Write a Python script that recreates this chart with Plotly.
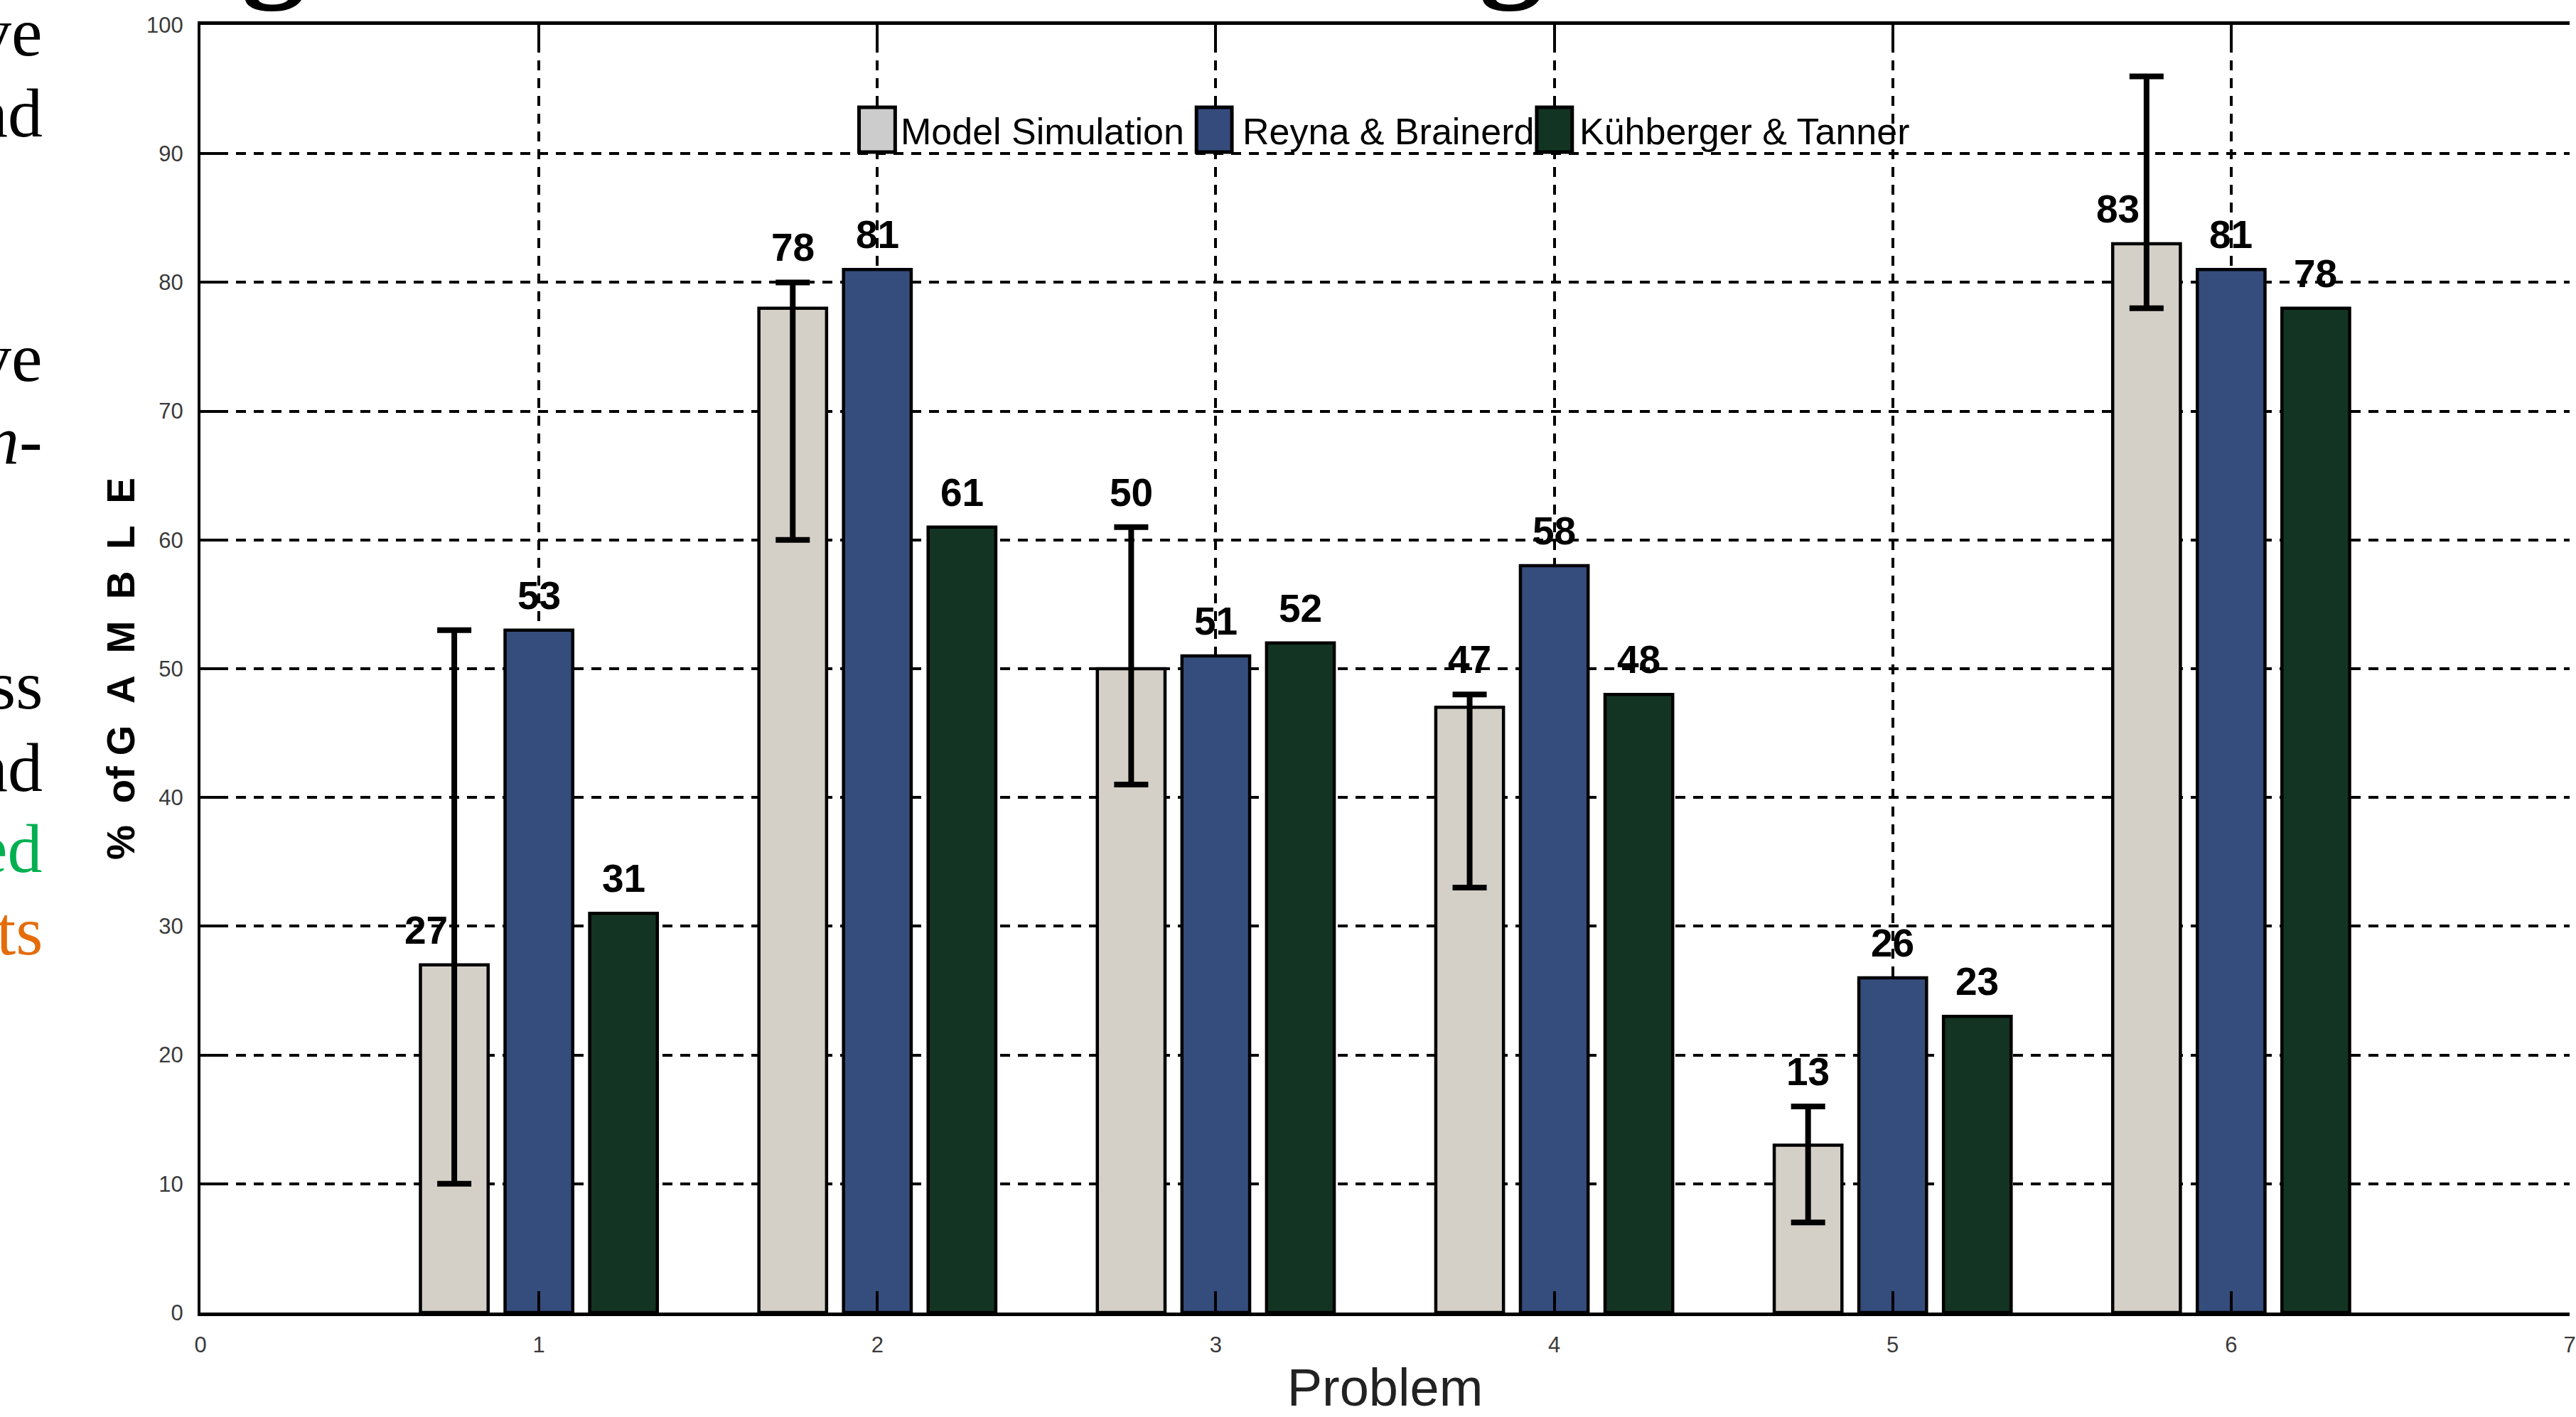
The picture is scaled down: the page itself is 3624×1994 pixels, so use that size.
import plotly.graph_objects as go

# ---- data -------------------------------------------------------------
problems = [1, 2, 3, 4, 5, 6]
x_tick_values = [0, 1, 2, 3, 4, 5, 6, 7]
y_tick_values = [0, 10, 20, 30, 40, 50, 60, 70, 80, 90, 100]

series_names = ["Model Simulation", "Reyna & Brainerd", "Kühberger & Tanner"]

model_simulation = [27, 78, 50, 47, 13, 83]
model_low = [10, 60, 41, 33, 7, 78]
model_high = [53, 80, 61, 48, 16, 96]
reyna_brainerd = [53, 81, 51, 58, 26, 81]
kuhberger_tanner = [31, 61, 52, 48, 23, 78]

# slide text that runs in from the left of the chart
side_fragments = ["ve", "nd", "ve", "n-", "ss", "nd", "ed", "ts"]

# ---- styling ----------------------------------------------------------
W, H = 3624, 1994
ML, MR, MT, MB = 282, 0, 35, 147
PW, PH = W - ML - MR, H - MT - MB

NARROW = "Liberation Sans Narrow, Arial Narrow, Liberation Sans, sans-serif"
SANS = "Liberation Sans, Arial, sans-serif"
SERIF = "Liberation Serif, Times New Roman, serif"

bar_colors = ["#D4D0C8", "#354D7C", "#133423"]
swatch_colors = ["#CCCCCC", "#344B7B", "#123423"]


def px_x(X):
    return (X - ML) / PW


def px_y(Y):
    return (H - MB - Y) / PH


fig = go.Figure()

fig.add_trace(go.Bar(
    x=problems, y=model_simulation, name=series_names[0], showlegend=False,
    marker=dict(color=bar_colors[0], line=dict(color="black", width=4.5)),
    error_y=dict(type="data", symmetric=False,
                 array=[h - v for h, v in zip(model_high, model_simulation)],
                 arrayminus=[v - lo for v, lo in zip(model_simulation, model_low)],
                 color="black", thickness=8, width=24),
))
fig.add_trace(go.Bar(
    x=problems, y=reyna_brainerd, name=series_names[1], showlegend=False,
    marker=dict(color=bar_colors[1], line=dict(color="black", width=4.5)),
))
fig.add_trace(go.Bar(
    x=problems, y=kuhberger_tanner, name=series_names[2], showlegend=False,
    marker=dict(color=bar_colors[2], line=dict(color="black", width=4.5)),
))

annotations = []
shapes = []

# value labels above the bars
GROUP_OFFSET = 0.25
LABEL_LIFT = 2.7
label_font = dict(family=NARROW, size=55, color="black", weight="bold")
beside_error_bar = [True, False, False, False, False, True]
for i, p in enumerate(problems):
    v = model_simulation[i]
    if beside_error_bar[i]:
        anchor, xs = v, -40
    else:
        anchor, xs = model_high[i], 0
    annotations.append(dict(x=p - GROUP_OFFSET, y=anchor + LABEL_LIFT, xref="x", yref="y",
                            text=str(v), showarrow=False, xshift=xs,
                            xanchor="center", yanchor="middle", font=label_font))
    for off, vals in ((0.0, reyna_brainerd), (GROUP_OFFSET, kuhberger_tanner)):
        annotations.append(dict(x=p + off, y=vals[i] + LABEL_LIFT, xref="x", yref="y",
                                text=str(vals[i]), showarrow=False,
                                xanchor="center", yanchor="middle", font=label_font))

# legend drawn inside the plot along the 90 grid line
legend_boxes = [(1211, 1262), (1687, 1737), (2167, 2217)]
legend_text_x = [1268, 1750, 2225]
for (x0, x1), tx, name, col in zip(legend_boxes, legend_text_x, series_names, swatch_colors):
    shapes.append(dict(type="rect", xref="paper", yref="paper",
                       x0=px_x(x0), x1=px_x(x1), y0=px_y(214), y1=px_y(151),
                       fillcolor=col, line=dict(color="black", width=5), layer="above"))
    annotations.append(dict(x=px_x(tx), y=px_y(216), xref="paper", yref="paper",
                            text=name, showarrow=False, xanchor="left", yanchor="bottom",
                            font=dict(family=NARROW, size=52, color="black")))

# slide body text at the far left
frag_baselines = [80, 194, 538, 654, 999, 1115, 1229, 1345]
frag_colors = ["black"] * 6 + ["#00B050", "#E46C0A"]
for txt, base, col in zip(side_fragments, frag_baselines, frag_colors):
    style = "italic" if txt == "n-" else "normal"
    annotations.append(dict(x=px_x(61), y=px_y(base + 21), xref="paper", yref="paper",
                            text=txt, showarrow=False, xanchor="right", yanchor="bottom",
                            font=dict(family=SERIF, size=98, color=col, style=style)))

# slide heading descenders peeking in from the top edge
for gx in (385, 2131):
    annotations.append(dict(x=px_x(gx), y=px_y(18), xref="paper", yref="paper",
                            text="g", showarrow=False, xanchor="center", yanchor="bottom",
                            font=dict(family=SERIF, size=180, color="black", weight="bold")))

axis_common = dict(
    showgrid=True, gridcolor="black", gridwidth=4, griddash="14px,11px",
    showline=True, linecolor="black", zeroline=False,
    ticks="inside", ticklen=30, tickwidth=4, tickcolor="black",
    tickfont=dict(family=NARROW, size=31, color="#3a3a3a"),
)

fig.update_layout(
    width=W, height=H,
    margin=dict(l=ML, r=MR, t=MT, b=MB, pad=0),
    paper_bgcolor="white", plot_bgcolor="white",
    barmode="group", bargap=0.25, bargroupgap=0.2,
    showlegend=False,
    xaxis=dict(range=[0, 7], tickmode="array", tickvals=x_tick_values,
               linewidth=5, mirror="ticks", ticklabelstandoff=14,
               ticklabeloverflow="allow",
               title=dict(text="Problem", standoff=28,
                          font=dict(family=NARROW, size=74, color="#222222")),
               **axis_common),
    yaxis=dict(range=[0, 100], tickmode="array", tickvals=y_tick_values,
               linewidth=4, mirror=False, ticklabelstandoff=14,
               title=dict(text="%\u00a0\u00a0of G\u00a0\u00a0A\u00a0\u00a0M\u00a0\u00a0B\u00a0\u00a0L\u00a0\u00a0E",
                          standoff=0,
                          font=dict(family=SANS, size=55, color="black", weight="bold")),
               **axis_common),
    annotations=annotations,
    shapes=shapes,
)

fig.write_html("out.html")
